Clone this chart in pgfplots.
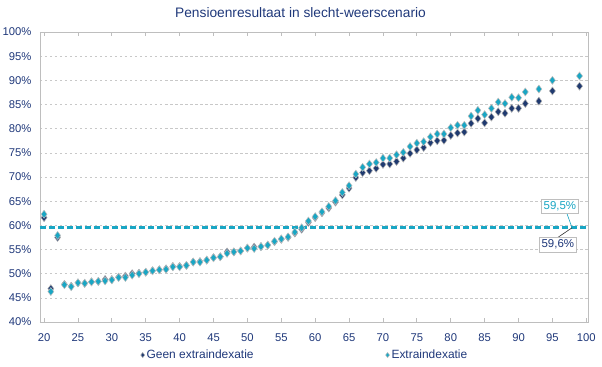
\documentclass[border=0pt]{standalone}
\usepackage{fontspec}
\setmainfont{Liberation Sans}
\usepackage{pgfplots}
\pgfplotsset{compat=1.18}
\definecolor{navy}{RGB}{31,58,112}
\definecolor{cyanm}{RGB}{25,166,196}
\definecolor{txt}{RGB}{31,56,122}
\definecolor{gridc}{RGB}{200,200,200}
\definecolor{axc}{RGB}{190,190,190}
\begin{document}
\begin{tikzpicture}
\begin{axis}[
  scale only axis,
  width=548bp, height=290bp,
  xmin=19.4, xmax=100.25,
  ymin=40, ymax=100,
  xtick={20,25,...,100},
  ytick={40,45,...,100},
  yticklabels={40\%,45\%,50\%,55\%,60\%,65\%,70\%,75\%,80\%,85\%,90\%,95\%,100\%},
  /pgf/number format/assume math mode=true,
  ymajorgrids,
  grid style={gridc, dash pattern=on 2.5bp off 2.5bp, line width=0.6bp},
  axis line style={axc, line width=0.8bp},
  tick align=inside,
  major tick length=4bp,
  xtick style={axc, line width=0.8bp},
  ytick style={draw=none},
  ticklabel style={font=\fontsize{11.3}{13}\selectfont, text=txt},
  yticklabel style={xshift=-5bp},
  xticklabel style={yshift=-8bp},
  clip=false,
  legend columns=2,
  legend style={draw=none, fill=none, at={(axis description cs:0.4836,-0.114)}, anchor=center,
    font=\fontsize{12}{14}\selectfont, text=txt,
    /tikz/every even column/.append style={column sep=130bp}},
  legend image code/.code={\draw[#1, mark size=2.6bp] plot coordinates {(0.1cm,0cm)};},
]
\addplot[only marks, mark=diamond*, mark size=4bp, color=navy,
  mark options={fill=navy, draw=black!30, line width=0.5bp}] coordinates {
(20,61.6)(21,46.9)(22,57.5)(23,47.8)(24,47.4)(25,48.1)(26,48.0)(27,48.3)(28,48.4)(29,48.8)
(30,48.8)(31,49.3)(32,49.5)(33,50.0)(34,50.1)(35,50.3)(36,50.6)(37,50.8)(38,51.0)(39,51.5)
(40,51.5)(41,51.7)(42,52.4)(43,52.5)(44,52.8)(45,53.3)(46,53.5)(47,54.5)(48,54.5)(49,54.7)
(50,55.3)(51,55.5)(52,55.6)(53,55.9)(54,56.6)(55,57.1)(56,57.5)(57,58.4)(58,59.2)(59,60.6)
(60,61.6)(61,62.6)(62,63.6)(63,64.8)(64,66.3)(65,67.7)(66,69.9)(67,70.9)(68,71.3)(69,71.8)
(70,72.6)(71,72.7)(72,73.2)(73,73.9)(74,74.9)(75,75.6)(76,76.1)(77,77.1)(78,77.5)(79,77.6)
(80,78.6)(81,79.1)(82,79.3)(83,81.1)(84,82.1)(85,81.2)(86,82.4)(87,83.5)(88,83.2)(89,84.2)
(90,84.2)(91,85.2)(93,85.7)(95,87.8)(99,88.8)};
\addlegendentry{Geen extraindexatie}
\addplot[only marks, mark=diamond*, mark size=4bp, color=cyanm,
  mark options={fill=cyanm, draw=black!25, line width=0.5bp}] coordinates {
(20,62.3)(21,46.3)(22,57.9)(23,47.7)(24,47.3)(25,48.1)(26,48.0)(27,48.3)(28,48.4)(29,48.5)
(30,48.7)(31,49.2)(32,49.2)(33,49.7)(34,50.0)(35,50.3)(36,50.6)(37,50.8)(38,50.9)(39,51.4)
(40,51.4)(41,51.7)(42,52.4)(43,52.4)(44,52.8)(45,53.3)(46,53.5)(47,54.2)(48,54.5)(49,54.7)
(50,55.3)(51,55.2)(52,55.6)(53,55.9)(54,56.7)(55,57.2)(56,57.6)(57,58.6)(58,59.5)(59,60.9)
(60,61.8)(61,62.8)(62,63.9)(63,65.1)(64,66.8)(65,68.2)(66,70.6)(67,72.0)(68,72.7)(69,73.0)
(70,73.9)(71,73.9)(72,74.6)(73,75.1)(74,76.3)(75,77.0)(76,77.3)(77,78.3)(78,78.9)(79,78.9)
(80,80.2)(81,80.7)(82,80.7)(83,82.6)(84,83.8)(85,82.9)(86,84.2)(87,85.5)(88,85.2)(89,86.5)
(90,86.4)(91,87.6)(93,88.2)(95,90.0)(99,90.9)};
\addlegendentry{Extraindexatie}
\addplot[navy, line width=2.4bp, dash pattern=on 6bp off 3bp, forget plot] coordinates {(19.4,59.55)(100.25,59.55)};
\addplot[cyanm, line width=2.6bp, dash pattern=on 6bp off 3bp, forget plot] coordinates {(19.4,59.5)(100.25,59.5)};
\draw[cyanm, line width=0.6bp] (axis cs:97.15,62.4) -- (axis cs:97.9,59.5);
\draw[black!80, line width=0.6bp] (axis cs:95.8,57.5) -- (axis cs:97.9,59.5);
\node[draw=axc, fill=white, text=cyanm, inner sep=2.3bp, font=\fontsize{11.5}{13}\selectfont] at (axis cs:96.1,64.0) {59,5\%};
\node[draw=axc, fill=white, text=txt, inner sep=2.3bp, font=\fontsize{11.5}{13}\selectfont] at (axis cs:95.8,56.0) {59,6\%};
\end{axis}
\node[text=txt, font=\fontsize{13.8}{16}\selectfont] at (260.5bp,309bp) {Pensioenresultaat in slecht-weerscenario};
\pgfresetboundingbox
\path[use as bounding box] (-40bp,-45bp) rectangle (562bp,322bp);
\end{tikzpicture}
\end{document}
